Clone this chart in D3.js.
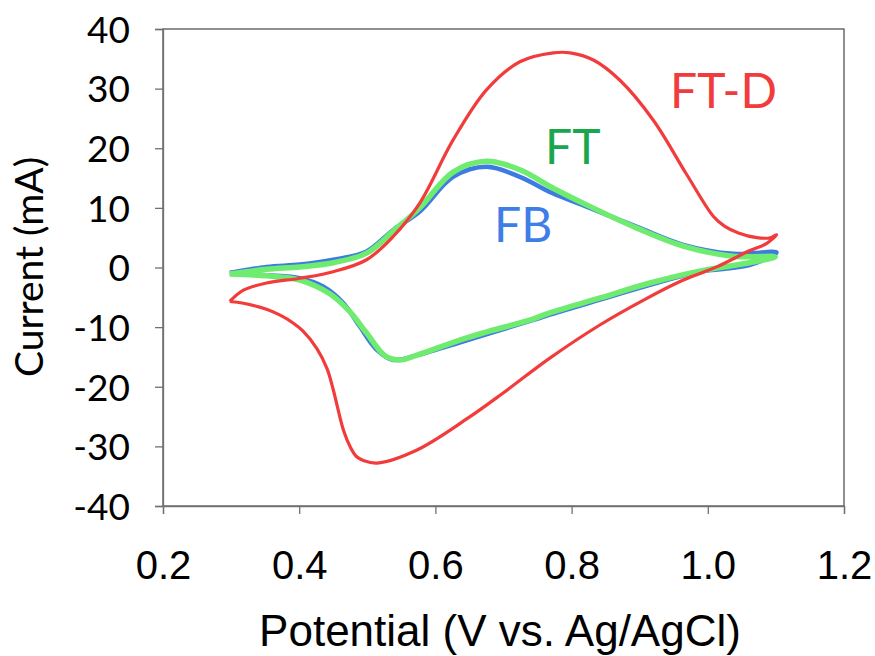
<!DOCTYPE html>
<html>
<head>
<meta charset="utf-8">
<script src="https://cdn.jsdelivr.net/npm/d3@7"></script>
<style>
  body { margin: 0; background: #fff; }
</style>
</head>
<body>
<div id="chart"></div>
<script>
// --- Data ---
// each loop starts at the 0.3 V vertex, runs anodic then back cathodic
const ftdV = [0.298, 0.318, 0.352, 0.401, 0.450, 0.499, 0.538, 0.577, 0.626, 0.675, 0.724, 0.773, 0.798, 0.832, 0.871, 0.920, 0.969, 1.008, 1.025, 1.045, 1.072, 1.092, 1.101,
              1.086, 1.061, 1.013, 0.964, 0.905, 0.842, 0.768, 0.700, 0.646, 0.573, 0.514, 0.495, 0.484, 0.475, 0.465, 0.450, 0.441, 0.426, 0.405, 0.391, 0.372, 0.352, 0.318, 0.298];
const ftdI = [-5.7, -3.8, -2.6, -1.8, -0.7, 1.3, 5.2, 10.8, 21.4, 29.8, 34.5, 36.0, 36.0, 34.8, 31.4, 24.7, 15.6, 8.6, 6.9, 5.8, 5.0, 5.0, 5.5,
              4.0, 2.8, 0.1, -2.1, -5.5, -9.6, -15.2, -21.0, -25.4, -30.6, -32.8, -32.4, -31.7, -30.1, -27.3, -20.5, -17.0, -13.6, -10.6, -9.3, -8.0, -7.0, -6.0, -5.7];

const fbV = [0.298, 0.352, 0.401, 0.450, 0.499, 0.538, 0.577, 0.626, 0.675, 0.724, 0.773, 0.822, 0.896, 0.964, 1.037, 1.101,
             1.061, 0.988, 0.915, 0.842, 0.768, 0.744, 0.646, 0.573, 0.538, 0.514, 0.489, 0.465, 0.435, 0.401, 0.352, 0.298];
const fbI = [-0.9, 0.1, 0.5, 1.3, 2.7, 6.3, 9.4, 15.2, 16.9, 15.2, 12.4, 10.2, 6.8, 3.8, 2.3, 2.5,
             0.4, -0.7, -2.9, -5.4, -7.9, -8.8, -12.2, -14.7, -15.5, -13.8, -9.9, -6.0, -3.2, -1.8, -1.3, -0.9];

const ftV = [0.298, 0.352, 0.401, 0.450, 0.499, 0.538, 0.577, 0.626, 0.675, 0.724, 0.773, 0.822, 0.896, 0.964, 1.037, 1.099,
             1.061, 0.988, 0.915, 0.842, 0.768, 0.744, 0.646, 0.573, 0.548, 0.526, 0.499, 0.475, 0.445, 0.401, 0.352, 0.298];
const ftI = [-1.1, -0.3, 0.1, 0.8, 2.4, 6.1, 10.0, 16.0, 17.8, 16.4, 13.3, 10.5, 6.6, 3.6, 1.9, 1.8,
             0.8, -0.6, -2.6, -5.1, -7.6, -8.6, -11.8, -14.7, -15.5, -14.8, -11.0, -7.5, -4.4, -2.1, -1.4, -1.1];

const xTicks = [0.2, 0.4, 0.6, 0.8, 1.0, 1.2];
const yTicks = [-40, -30, -20, -10, 0, 10, 20, 30, 40];

const series = [
  { name: "FB",   v: fbV,  i: fbI,  color: "#3d7be3", width: 4.5 },
  { name: "FT",   v: ftV,  i: ftI,  color: "#6fec6f", width: 5.5 },
  { name: "FT-D", v: ftdV, i: ftdI, color: "#f23b3b", width: 3.2 }
];

// --- Layout ---
const width = 875, height = 656;
const plot = { left: 163, right: 844, top: 29, bottom: 506 };

const svg = d3.select("#chart").append("svg")
  .attr("width", width)
  .attr("height", height);

const x = d3.scaleLinear().domain([0.2, 1.2]).range([plot.left, plot.right]);
const y = d3.scaleLinear().domain([-40, 40]).range([plot.bottom, plot.top]);

// frame (top + right)
svg.append("rect")
  .attr("x", plot.left)
  .attr("y", plot.top)
  .attr("width", plot.right - plot.left)
  .attr("height", plot.bottom - plot.top)
  .attr("fill", "none")
  .attr("stroke", "#555")
  .attr("stroke-width", 1.3);

// y axis (plain hyphen minus, like the original)
const yAxis = svg.append("g")
  .attr("transform", `translate(${plot.left},0)`)
  .call(d3.axisLeft(y).tickValues(yTicks).tickSize(8).tickPadding(25).tickFormat(d => String(d)));
yAxis.selectAll("text")
  .style("font-family", "Lato, 'Open Sans', sans-serif")
  .style("font-size", "37px")
  .attr("fill", "#000")
  .attr("dy", "0.36em");

// x axis
const xAxis = svg.append("g")
  .attr("transform", `translate(0,${plot.bottom})`)
  .call(d3.axisBottom(x).tickValues(xTicks).tickSize(8).tickPadding(65).tickFormat(d => d.toFixed(1)));
xAxis.selectAll("text")
  .style("font-family", "'Liberation Sans', Arial, sans-serif")
  .style("font-size", "40px")
  .attr("fill", "#000")
  .attr("dy", "0");

svg.selectAll(".domain, .tick line").attr("stroke", "#707070").attr("stroke-width", 1.3);

// axis titles
svg.append("text")
  .attr("x", 500)
  .attr("y", 646)
  .attr("text-anchor", "middle")
  .style("font-family", "'Liberation Sans', Arial, sans-serif")
  .style("font-size", "44px")
  .text("Potential (V vs. Ag/AgCl)");

svg.append("text")
  .attr("transform", "translate(43,267) rotate(-90)")
  .attr("text-anchor", "middle")
  .style("font-family", "Lato, 'Open Sans', sans-serif")
  .style("font-size", "39px")
  .text("Current (mA)");

// CV loops
const line = d3.line()
  .x(d => x(d[0]))
  .y(d => y(d[1]))
  .curve(d3.curveCatmullRom.alpha(0.5));

series.forEach(s => {
  svg.append("path")
    .datum(s.v.map((v, k) => [v, s.i[k]]))
    .attr("d", line)
    .attr("fill", "none")
    .attr("stroke", s.color)
    .attr("stroke-width", s.width)
    .attr("stroke-linejoin", "round");
});

// series labels
const labels = [
  { text: "FT-D", x: 670, y: 108, color: "#f03c3c" },
  { text: "FT",   x: 545, y: 164, color: "#1aa64c" },
  { text: "FB",   x: 494, y: 242, color: "#3f7ee6" }
];
svg.selectAll(".lbl")
  .data(labels)
  .join("text")
  .attr("class", "lbl")
  .attr("x", d => d.x)
  .attr("y", d => d.y)
  .attr("fill", d => d.color)
  .style("font-family", "Lato, 'Open Sans', sans-serif")
  .style("font-size", "48px")
  .text(d => d.text);
</script>
</body>
</html>
